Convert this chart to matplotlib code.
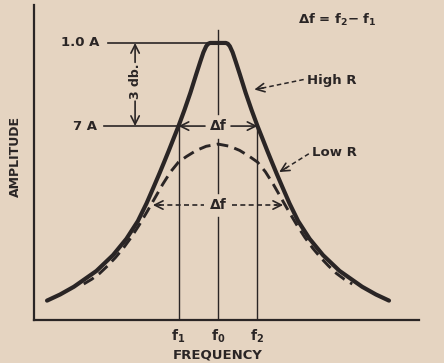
import matplotlib
matplotlib.use("Agg")
import matplotlib.pyplot as plt

# resonance curves: frequency offset (f0 = 0, f1 = -1, f2 = +1) and relative amplitude
# one half of each curve, the other side mirrors it
high_r_half_freq = [0.00, 0.10, 0.20, 0.25, 0.30, 0.37, 0.45, 0.55, 0.70, 0.85,
                    1.00, 1.12, 1.25, 1.37, 1.48, 1.63, 1.81, 2.03, 2.32, 2.66,
                    3.08, 3.65, 4.00, 4.33]
high_r_half_amp = [1.000, 1.000, 1.000, 0.997, 0.988, 0.966, 0.932, 0.888, 0.820, 0.758,
                   0.700, 0.657, 0.610, 0.568, 0.530, 0.480, 0.421, 0.357, 0.293, 0.234,
                   0.177, 0.120, 0.092, 0.070]

low_r_half_freq = [0.00, 0.30, 0.55, 0.80, 1.00, 1.20, 1.40, 1.60, 1.80, 2.00,
                   2.20, 2.40, 2.60, 2.80, 3.00, 3.20, 3.40]
low_r_half_amp = [0.635, 0.627, 0.612, 0.590, 0.570, 0.535, 0.490, 0.440, 0.390, 0.342,
                  0.298, 0.259, 0.225, 0.195, 0.168, 0.147, 0.130]

peak_amp = 1.0
half_power_amp = 0.70
low_r_band = (-1.65, 1.65)   # where the lower delta-f arrows end
freq_marks = [(-1.0, "f$_1$"), (0.0, "f$_0$"), (1.0, "f$_2$")]

paper = "#e5d4c1"
ink = "#2a2525"

plt.rcParams["font.family"] = ["DejaVu Sans"]
plt.rcParams["font.weight"] = "bold"
plt.rcParams["mathtext.default"] = "regular"


def mirrored(freq, amp):
    xs = [-f for f in freq[:0:-1]] + list(freq)
    ys = list(amp[:0:-1]) + list(amp)
    return xs, ys


fig = plt.figure(figsize=(4.44, 3.63), dpi=100, facecolor=paper)
ax = fig.add_axes([34 / 444, 43 / 363, 385 / 444, 315 / 363])
ax.set_facecolor(paper)
ax.set_xlim(-4.66, 5.09)
ax.set_ylim(0, 1.137)
for side in ("top", "right"):
    ax.spines[side].set_visible(False)
for side in ("left", "bottom"):
    ax.spines[side].set_color(ink)
    ax.spines[side].set_linewidth(1.6)
ax.set_xticks([])
ax.set_yticks([])

# curves
hx, hy = mirrored(high_r_half_freq, high_r_half_amp)
lx, ly = mirrored(low_r_half_freq, low_r_half_amp)
ax.plot(hx, hy, color=ink, lw=3.0, solid_capstyle="round",
        solid_joinstyle="round", clip_on=False)
ax.plot(lx, ly, color=ink, lw=2.1, dashes=(4, 2.2), clip_on=False)

# reference levels
ax.plot([-2.78, 0.0], [peak_amp, peak_amp], color=ink, lw=1.2, clip_on=False)
ax.plot([-2.89, -1.0], [half_power_amp, half_power_amp], color=ink, lw=1.2, clip_on=False)
ax.text(-3.0, peak_amp, "1.0 A", ha="right", va="center", fontsize=9.5, color=ink)
ax.text(-3.06, half_power_amp, "7 A", ha="right", va="center", fontsize=9.5, color=ink)

# frequency verticals
ax.plot([-1.0, -1.0], [0, half_power_amp], color=ink, lw=1.0)
ax.plot([1.0, 1.0], [0, half_power_amp], color=ink, lw=1.0)
ax.plot([0, 0], [1.047, 0.745], color=ink, lw=1.0, clip_on=False)
ax.plot([0, 0], [0.655, 0.46], color=ink, lw=1.0)
ax.plot([0, 0], [0.37, 0], color=ink, lw=1.0)

arrow = dict(arrowstyle="->,head_length=0.6,head_width=0.3", color=ink, lw=1.2,
             shrinkA=0, shrinkB=0)

# 3 db span
ax.annotate("", xy=(-2.10, peak_amp), xytext=(-2.10, 0.93), arrowprops=arrow)
ax.annotate("", xy=(-2.10, half_power_amp), xytext=(-2.10, 0.79), arrowprops=arrow)
ax.text(-2.10, 0.862, "3 db.", rotation=90, ha="center", va="center",
        fontsize=9, color=ink)

# bandwidth at the half-power level
ax.text(0, half_power_amp, "Δf", ha="center", va="center", fontsize=10, color=ink)
ax.annotate("", xy=(-1.0, half_power_amp), xytext=(-0.33, half_power_amp), arrowprops=arrow)
ax.annotate("", xy=(1.0, half_power_amp), xytext=(0.33, half_power_amp), arrowprops=arrow)

# wider bandwidth of the low R curve
low_y = 0.415
ax.text(0, low_y, "Δf", ha="center", va="center", fontsize=10, color=ink)
ax.plot([low_r_band[0] + 0.15, -0.35], [low_y, low_y], color=ink, lw=1.2, dashes=(3, 2))
ax.plot([0.35, low_r_band[1] - 0.15], [low_y, low_y], color=ink, lw=1.2, dashes=(3, 2))
ax.annotate("", xy=(low_r_band[0], low_y), xytext=(low_r_band[0] + 0.2, low_y), arrowprops=arrow)
ax.annotate("", xy=(low_r_band[1], low_y), xytext=(low_r_band[1] - 0.2, low_y), arrowprops=arrow)

# curve labels with dashed leaders
ax.text(2.25, 0.866, "High R", ha="left", va="center", fontsize=9.5, color=ink)
ax.plot([2.17, 1.05], [0.868, 0.835], color=ink, lw=1.1, dashes=(3, 2))
ax.annotate("", xy=(0.92, 0.832), xytext=(1.15, 0.838), arrowprops=arrow)
ax.text(2.38, 0.606, "Low R", ha="left", va="center", fontsize=9.5, color=ink)
ax.plot([2.30, 1.68], [0.600, 0.545], color=ink, lw=1.1, dashes=(3, 2))
ax.annotate("", xy=(1.55, 0.534), xytext=(1.75, 0.551), arrowprops=arrow)

ax.text(2.03, 1.083, "Δf = f$_2$$-$ f$_1$", ha="left", va="center", fontsize=9.5,
        color=ink)

# axis labels
for x, name in freq_marks:
    ax.text(x, -0.058, name, ha="center", va="center", fontsize=10, color=ink,
            clip_on=False)
ax.text(0, -0.126, "FREQUENCY", ha="center", va="center", fontsize=9.5, color=ink)
ax.text(-5.14, 0.59, "AMPLITUDE", rotation=90, ha="center", va="center",
        fontsize=9, color=ink)

fig.savefig("out.png", dpi=100, facecolor=paper)
